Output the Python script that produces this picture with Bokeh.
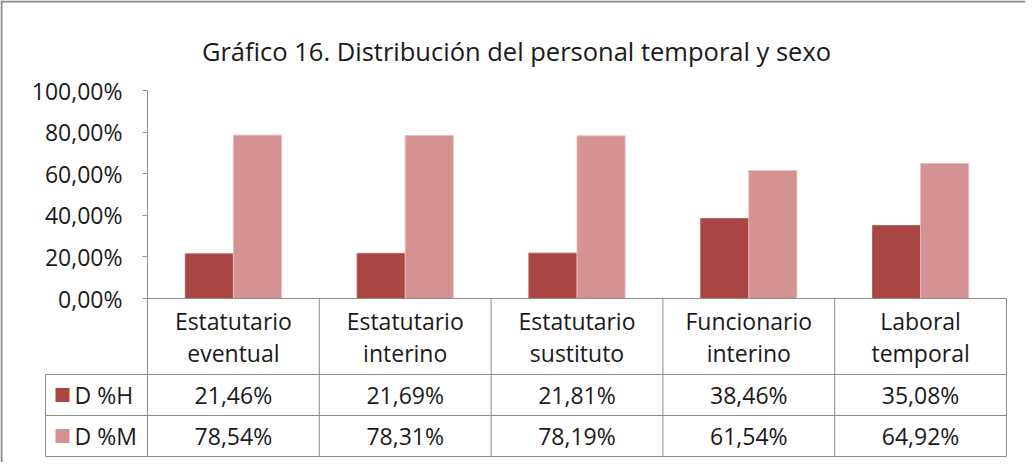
from bokeh.plotting import figure
from bokeh.models import Range1d, LinearAxis, FixedTicker, Label, ColumnDataSource, Span
from bokeh.transform import dodge
from bokeh.core.properties import value
from bokeh.embed import file_html
from bokeh.resources import INLINE

# ---------------- data ----------------
title_text = "Gráfico 16. Distribución del personal temporal y sexo"
categories = ["Estatutario\neventual", "Estatutario\ninterino", "Estatutario\nsustituto",
              "Funcionario\ninterino", "Laboral\ntemporal"]
series_names = ["D %H", "D %M"]
pct_h = [21.46, 21.69, 21.81, 38.46, 35.08]
pct_m = [78.54, 78.31, 78.19, 61.54, 64.92]
y_ticks = [0, 20, 40, 60, 80, 100]
y_tick_labels = ["0,00%", "20,00%", "40,00%", "60,00%", "80,00%", "100,00%"]

# ---------------- layout (canvas pixels) ----------------
W, H = 1025, 462
PLOT_L = 147.0      # left edge of plot area
COL_W = 171.8       # width of one category column
ZERO_Y = 298.0      # canvas y of the 0 % line
PX_PER_PCT = 2.08   # 208 px for 100 %
HDR_H = 76.0        # header row of the table
ROW_H = 41.0        # data rows of the table
LEG_L = 45.0        # left edge of the legend column

FONT = "Open Sans"
FS = "23px"
DARK = "#A94543"
LIGHT = "#D49292"
GRID = "#9a9a9a"
TABLE = "#8c8c8c"
TXT = "#1a1a1a"
BORDER = "#888888"

def xd(px):
    return (px - PLOT_L) / COL_W

def yd(px):
    return px / PX_PER_PCT

n = len(categories)
x_start, x_end = xd(0), xd(W)
y_end = ZERO_Y / PX_PER_PCT
y_start = -(H - ZERO_Y) / PX_PER_PCT

p = figure(width=W, height=H, output_backend="svg", toolbar_location=None,
           x_range=Range1d(x_start, x_end), y_range=Range1d(y_start, y_end),
           min_border_left=0, min_border_right=0, min_border_top=0, min_border_bottom=0,
           x_axis_type=None, y_axis_type=None)
p.outline_line_color = None
p.background_fill_color = "white"
p.border_fill_color = "white"
p.xgrid.visible = False
p.ygrid.ticker = FixedTicker(ticks=y_ticks)
p.ygrid.grid_line_color = GRID
p.ygrid.grid_line_width = 1
p.ygrid.cross_bounds = (0, n)

# chart-area border (left and top edges; the others lie outside the window)
p.add_layout(Span(location=1, location_units="screen", dimension="height",
                  line_color=BORDER, line_width=2))
p.add_layout(Span(location=H - 1, location_units="screen", dimension="width",
                  line_color=BORDER, line_width=2))

# ---------------- bars ----------------
src = ColumnDataSource(dict(x=[i + 0.5 for i in range(n)], h=pct_h, m=pct_m))
p.vbar(x=dodge("x", -0.14, range=p.x_range), top="h", width=0.28, source=src,
       fill_color=DARK, line_color="#B86462", line_width=1)
p.vbar(x=dodge("x", 0.14, range=p.x_range), top="m", width=0.28, source=src,
       fill_color=LIGHT, line_color="#E6BDBD", line_width=1)

# ---------------- axes ----------------
yaxis = LinearAxis(fixed_location=0, ticker=FixedTicker(ticks=y_ticks),
                   major_label_overrides={t: l for t, l in zip(y_ticks, y_tick_labels)})
yaxis.axis_line_color = None
yaxis.major_tick_line_color = GRID
yaxis.major_tick_out = 5
yaxis.major_tick_in = 0
yaxis.minor_tick_line_color = None
yaxis.major_label_standoff = 20
yaxis.major_label_text_font = FONT
yaxis.major_label_text_font_size = FS
yaxis.major_label_text_color = TXT
p.add_layout(yaxis, "left")

cat_ticks = [i + 0.5 for i in range(n)]
xaxis = LinearAxis(fixed_location=0, ticker=FixedTicker(ticks=cat_ticks),
                   major_label_overrides={t: c for t, c in zip(cat_ticks, categories)})
xaxis.axis_line_color = None
xaxis.major_tick_line_color = None
xaxis.major_tick_out = 0
xaxis.major_tick_in = 0
xaxis.minor_tick_line_color = None
xaxis.major_label_standoff = 6
xaxis.major_label_text_font = FONT
xaxis.major_label_text_font_size = FS
xaxis.major_label_text_line_height = 1.0
xaxis.major_label_text_color = TXT
p.add_layout(xaxis, "below")

# ---------------- data table ----------------
y_hdr = -yd(HDR_H)
y_r1 = -yd(HDR_H + ROW_H)
y_r2 = -yd(HDR_H + 2 * ROW_H)
x_leg = xd(LEG_L)

hx0 = [0, x_leg, x_leg, x_leg]
hx1 = [n, n, n, n]
hy = [0, y_hdr, y_r1, y_r2]
p.segment(x0=hx0, y0=hy, x1=hx1, y1=hy, line_color=TABLE, line_width=1)

vx = [x_leg] + list(range(n + 1))
vy0 = [y_hdr, 100] + [0] * n
vy1 = [y_r2] * (n + 2)
p.segment(x0=vx, y0=vy0, x1=vx, y1=vy1, line_color=TABLE, line_width=1)

def fmt(v):
    return f"{v:.2f}".replace(".", ",") + "%"

row_y = [(y_hdr + y_r1) / 2, (y_r1 + y_r2) / 2]
for vals, ry in zip([pct_h, pct_m], row_y):
    p.text(x=cat_ticks, y=[ry] * n, text=[fmt(v) for v in vals],
           text_font=value(FONT), text_font_size=FS, text_color=TXT,
           text_align="center", text_baseline="middle")

# legend keys in the table
p.rect(x=[xd(62)] * 2, y=row_y, width=14, height=14, width_units="screen",
       height_units="screen", fill_color=[DARK, LIGHT], line_color=None)
p.text(x=[xd(74)] * 2, y=row_y, text=series_names,
       text_font=value(FONT), text_font_size=FS, text_color=TXT,
       text_align="left", text_baseline="middle")

# ---------------- title ----------------
p.add_layout(Label(x=516, y=H - 50, x_units="screen", y_units="screen",
                   text=title_text, text_font=FONT, text_font_size="25.5px",
                   text_color=TXT, text_align="center", text_baseline="alphabetic"))

open("out.html", "w").write(file_html(p, INLINE))
